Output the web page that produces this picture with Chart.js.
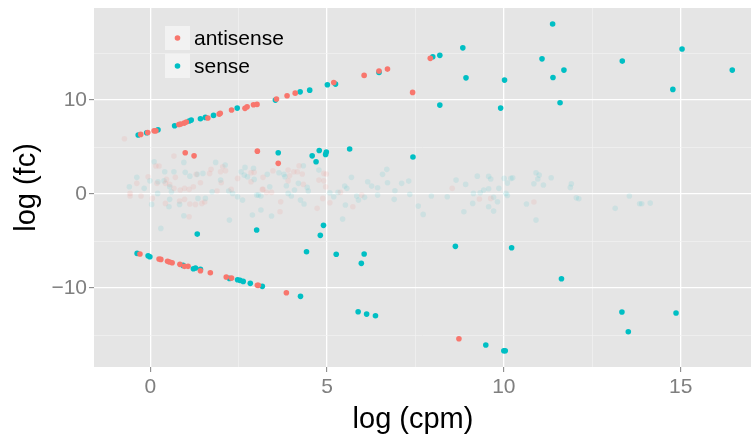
<!DOCTYPE html>
<html>
<head>
<meta charset="utf-8">
<script src="https://cdn.jsdelivr.net/npm/chart.js@4/dist/chart.umd.min.js"></script>
<style>
  html, body { margin: 0; padding: 0; background: #ffffff; }
  #wrap { width: 755px; height: 439px; }
</style>
</head>
<body>
<div id="wrap"><canvas id="c" width="755" height="439"></canvas></div>
<script>
// ---- data (log cpm, log fc) ----
const seriesNames = ["antisense", "sense"];
const xTitle = "log (cpm)";
const yTitle = "log (fc)";
const xTickValues = [0, 2.5, 5, 7.5, 10, 12.5, 15];
const xTickLabels = ["0", "", "5", "", "10", "", "15"];
const yTickValues = [-15, -10, -5, 0, 5, 10, 15];
const yTickLabels = ["", "\u221210", "", "0", "", "10", ""];

// highlighted antisense points
const antisensePts = [
  [-0.27,6.35],[-0.07,6.56],[0.11,6.73],[0.16,6.73],[0.81,7.41],[0.86,7.45],[0.96,7.55],[1.02,7.66],
  [1.63,8.09],[1.95,8.51],[1.98,8.59],[2.30,8.94],[2.68,9.12],[2.74,9.29],[2.92,9.50],[3.02,9.54],
  [3.57,10.11],[3.87,10.46],[4.10,10.74],[5.19,11.88],[6.05,12.63],[6.47,13.09],[6.71,13.30],
  [7.42,10.82],[7.92,14.44],
  [0.99,4.39],[1.24,4.07],[3.03,4.57],[3.62,3.27],
  [-0.29,-6.38],[0.25,-6.91],[0.30,-6.95],[0.49,-7.16],[0.55,-7.23],[0.62,-7.31],[0.84,-7.48],
  [0.97,-7.69],[1.07,-7.69],[1.42,-8.16],[1.70,-8.37],[2.15,-8.83],[2.30,-8.94],[3.03,-9.71],
  [3.06,-9.71],[3.85,-10.50],[8.73,-15.39]
];
// highlighted sense points
const sensePts = [
  [-0.34,6.28],[-0.10,6.52],[0.22,6.84],[0.69,7.27],[1.10,7.77],[1.16,7.87],[1.42,8.01],[1.56,8.16],
  [1.79,8.37],[2.46,9.15],[3.54,10.00],[4.24,10.88],[4.51,11.06],[5.01,11.63],[5.24,11.70],
  [6.47,12.95],[7.99,14.61],[8.19,14.76],[8.84,15.56],[8.93,12.37],[10.02,12.13],[11.38,18.09],
  [11.08,14.39],[11.70,13.19],[11.39,12.41],[13.35,14.15],[15.04,15.43],[16.46,13.19],[14.78,11.14],
  [8.19,9.47],[9.91,9.15],[11.59,9.71],
  [3.62,4.39],[4.58,4.07],[4.78,4.63],[4.69,3.44],[4.98,4.47],[4.96,4.22],[5.64,4.79],[7.43,3.94],
  [1.33,-4.26],[3.01,-3.83],[4.90,-3.33],[4.81,-4.39],[4.42,-6.14],[5.26,-6.41],[6.05,-6.38],
  [5.97,-7.37],[8.63,-5.56],[10.22,-5.71],[11.63,-9.01],
  [-0.37,-6.31],[-0.06,-6.56],[-0.01,-6.67],[0.93,-7.59],[1.22,-7.95],[1.28,-7.87],[1.42,-8.01],
  [2.24,-8.97],[2.47,-9.12],[2.54,-9.18],[2.63,-9.29],[2.83,-9.50],[3.17,-9.82],[4.25,-10.88],
  [5.88,-12.52],[6.12,-12.77],[6.37,-12.95],[13.34,-12.55],[14.87,-12.66],[13.52,-14.65],
  [9.49,-16.06],[10.00,-16.67],[10.04,-16.67]
];
// faded (non-significant) antisense points
const antisenseBgPts = [
  [-0.73,5.88],[0.67,4.04],[0.16,2.98],[0.25,2.98],[-0.06,1.84],[-0.38,1.14],[-0.57,0.07],[-0.57,-0.21],
  [-0.26,-0.21],[0.06,-0.46],[0.19,1.14],[0.43,1.14],[0.71,1.78],[0.67,0.61],[0.85,0.43],[0.97,0.61],
  [1.10,0.50],[1.22,0.78],[0.97,-0.56],[0.83,-0.74],[0.43,-0.99],[1.12,-1.06],[1.28,-1.10],[1.46,-0.99],
  [1.54,-0.85],[1.42,1.20],[1.30,2.10],[1.68,2.20],[1.72,2.63],[1.99,2.37],[2.05,2.90],[2.13,2.48],
  [2.01,1.20],[1.89,0.32],[2.29,0.50],[2.47,1.67],[2.85,2.27],[2.94,2.31],[2.85,1.31],[3.17,0.50],
  [1.10,-2.41],[0.46,1.56],[0.55,1.03],
  [3.90,2.55],[4.06,2.37],[4.16,2.37],[4.21,3.01],[4.30,2.13],[3.94,1.95],[3.90,1.41],[3.47,2.48],
  [3.19,1.78],[3.19,0.50],[3.29,0.18],[3.43,0.18],[3.69,-0.82],[3.67,-1.88],[4.33,1.03],[4.77,1.49],
  [4.91,1.41],[4.91,2.20],[4.98,2.13],[4.96,0.78],[4.88,-0.46],[5.08,-0.93],[4.72,-1.52],[5.38,0.18],
  [5.73,-1.35],[5.98,-0.11],[8.54,0.61],[9.31,-0.53],[9.63,-0.46],[10.85,-0.85]
];
// faded (non-significant) sense points
const senseBgPts = [
  [0.11,3.44],[0.95,3.37],[-0.38,1.78],[-0.59,0.78],[-0.17,0.61],[-0.01,1.41],[0.22,1.31],[0.41,2.37],
  [0.67,2.37],[0.99,2.31],[1.12,1.91],[1.33,2.10],[1.49,2.20],[0.39,1.41],[0.55,0.78],[0.60,0.24],
  [0.21,0.07],[0.04,-1.10],[0.53,-1.35],[0.55,-0.56],[1.56,-0.46],[1.35,-0.46],[1.75,0.24],[1.99,1.49],
  [2.12,3.09],[1.85,3.37],[2.22,0.32],[2.33,0.07],[2.57,2.37],[2.66,2.02],[2.75,1.84],[2.94,1.56],
  [2.68,2.84],[2.92,2.73],[2.47,-0.29],[2.61,-0.64],[3.01,-0.11],[3.06,-0.11],[3.13,-1.70],[2.89,-2.23],
  [2.24,-2.77],[0.95,-2.31],[0.30,-3.65],[0.83,-1.10],
  [3.31,2.10],[3.64,2.27],[3.78,2.10],[3.81,1.84],[4.33,3.01],[4.77,2.55],[4.19,1.14],[3.85,0.88],
  [3.38,0.78],[3.13,-0.21],[3.90,0.07],[3.99,-0.21],[4.08,0.43],[4.44,0.71],[4.47,0.32],[4.25,-0.64],
  [4.35,-1.06],[3.43,-2.34],[5.08,0.14],[5.19,-0.29],[5.31,0.18],[5.50,0.85],[5.56,0.61],[5.52,-1.17],
  [5.69,1.78],[5.84,-0.21],[5.89,-0.64],[6.06,-0.35],[6.15,1.31],[6.26,0.85],[6.43,0.67],[6.43,-0.11],
  [6.57,2.10],[6.69,2.63],[6.71,1.20],[6.92,0.35],[6.90,-0.56],[7.11,1.14],[7.31,1.38],[7.34,-0.03],
  [7.58,-1.28],[7.72,-2.16],[7.95,-0.21],[8.40,-0.29],[8.65,1.49],[5.44,-2.66],
  [8.92,1.03],[9.25,1.91],[9.57,1.88],[9.63,1.60],[9.57,0.56],[9.43,0.43],[9.33,0.14],[9.14,0.07],
  [9.12,-0.99],[8.87,-1.88],[9.57,-1.35],[9.71,-1.81],[9.82,-0.82],[9.71,-0.35],[9.86,0.61],[10.01,1.67],
  [10.20,1.67],[10.25,1.73],[10.10,1.17],[10.06,0.07],[10.10,-0.14],[10.64,-1.06],[10.91,2.27],[11.00,2.02],
  [10.96,1.60],[10.85,1.10],[11.12,0.96],[11.34,1.73],[11.91,1.10],[11.88,0.71],[12.05,-0.39],[12.12,-0.50],
  [10.91,-2.77],[13.15,-1.52],[13.55,-0.21],[13.84,-1.03],[13.90,-1.03],[14.14,-0.96]
];

// ---- styling ----
const RED = "#F8766D", TEAL = "#00BFC4";
const RED_FADE = "rgba(248,118,109,0.11)", TEAL_FADE = "rgba(0,191,196,0.10)";
const FONT = '"Liberation Sans", Helvetica, Arial, sans-serif';
const toXY = pts => pts.map(p => ({x: p[0], y: p[1]}));

const panelBg = {
  id: "panelBg",
  beforeDraw(chart) {
    const {ctx, chartArea: a} = chart;
    ctx.save();
    ctx.fillStyle = "#ffffff";
    ctx.fillRect(0, 0, chart.width, chart.height);
    ctx.fillStyle = "#e5e5e5";
    ctx.fillRect(a.left, a.top, a.right - a.left, a.bottom - a.top);
    ctx.restore();
  }
};

const ggLegend = {
  id: "ggLegend",
  afterDraw(chart) {
    const {ctx, chartArea: a} = chart;
    const colors = [RED, TEAL];
    ctx.save();
    const x0 = a.left + 71, y0 = a.top + 18, kw = 25, kh = 24;
    seriesNames.forEach((name, i) => {
      const ky = y0 + i * (kh + 4);
      ctx.fillStyle = "#f2f2f2";
      ctx.fillRect(x0, ky, kw, kh);
      ctx.fillStyle = colors[i];
      ctx.beginPath();
      ctx.arc(x0 + kw / 2, ky + kh / 2, 2.8, 0, Math.PI * 2);
      ctx.fill();
      ctx.fillStyle = "#000000";
      ctx.font = "21px " + FONT;
      ctx.textAlign = "left";
      ctx.textBaseline = "middle";
      ctx.fillText(name, x0 + kw + 4, ky + kh / 2 + 1);
    });
    // x axis title
    ctx.font = "29px " + FONT;
    ctx.textAlign = "center";
    ctx.textBaseline = "alphabetic";
    ctx.fillStyle = "#000000";
    ctx.fillText(xTitle, 413, 428);
    ctx.restore();
  }
};

const gridColor = (ctx, majors) => {
  const v = ctx.tick && ctx.tick.value;
  return majors.includes(v) ? "#ffffff" : "#f2f2f2";
};

new Chart(document.getElementById("c"), {
  type: "scatter",
  data: {
    datasets: [
      {label: seriesNames[0], data: toXY(antisensePts), backgroundColor: RED, pointRadius: 2.8, pointBorderWidth: 0, borderWidth: 0},
      {label: seriesNames[1], data: toXY(sensePts), backgroundColor: TEAL, pointRadius: 2.8, pointBorderWidth: 0, borderWidth: 0},
      {label: "antisense (n.s.)", data: toXY(antisenseBgPts), backgroundColor: RED_FADE, pointRadius: 2.8, pointBorderWidth: 0, borderWidth: 0},
      {label: "sense (n.s.)", data: toXY(senseBgPts), backgroundColor: TEAL_FADE, pointRadius: 2.8, pointBorderWidth: 0, borderWidth: 0}
    ]
  },
  options: {
    responsive: false,
    animation: false,
    devicePixelRatio: 1,
    layout: {padding: {top: 8, right: 0, left: 0, bottom: 0}},
    plugins: {legend: {display: false}, tooltip: {enabled: false}},
    scales: {
      x: {
        type: "linear",
        min: -1.59, max: 16.99,
        afterBuildTicks: s => { s.ticks = xTickValues.map(v => ({value: v})); },
        afterFit: s => { s.height = 72; s.paddingLeft = 0; s.paddingRight = 0; },
        border: {display: false},
        grid: {
          color: c => gridColor(c, [0, 5, 10, 15]),
          lineWidth: c => [0, 5, 10, 15].includes(c.tick && c.tick.value) ? 1.3 : 0.7,
          tickColor: c => [0, 5, 10, 15].includes(c.tick && c.tick.value) ? "#7f7f7f" : "rgba(0,0,0,0)",
          tickLength: 5,
          tickWidth: 1,
          drawTicks: true
        },
        ticks: {
          autoSkip: false, maxRotation: 0,
          color: "#7f7f7f",
          font: {family: FONT, size: 21},
          padding: 3,
          callback: (v, i) => xTickLabels[xTickValues.indexOf(v)] ?? ""
        },
        title: {display: false}
      },
      y: {
        type: "linear",
        min: -18.4, max: 19.8,
        afterBuildTicks: s => { s.ticks = yTickValues.map(v => ({value: v})); },
        afterFit: s => { s.width = 94; s.paddingTop = 0; s.paddingBottom = 0; },
        border: {display: false},
        grid: {
          color: c => gridColor(c, [-10, 0, 10]),
          lineWidth: c => [-10, 0, 10].includes(c.tick && c.tick.value) ? 1.3 : 0.7,
          tickColor: c => [-10, 0, 10].includes(c.tick && c.tick.value) ? "#7f7f7f" : "rgba(0,0,0,0)",
          tickLength: 5,
          tickWidth: 1,
          drawTicks: true
        },
        ticks: {
          autoSkip: false,
          color: "#7f7f7f",
          font: {family: FONT, size: 21},
          padding: 2,
          callback: (v) => yTickLabels[yTickValues.indexOf(v)] ?? ""
        },
        title: {
          display: true, text: yTitle, color: "#000000",
          font: {family: FONT, size: 29, lineHeight: 1},
          padding: {top: 12, bottom: 0}
        }
      }
    }
  },
  plugins: [panelBg, ggLegend]
});
</script>
</body>
</html>
